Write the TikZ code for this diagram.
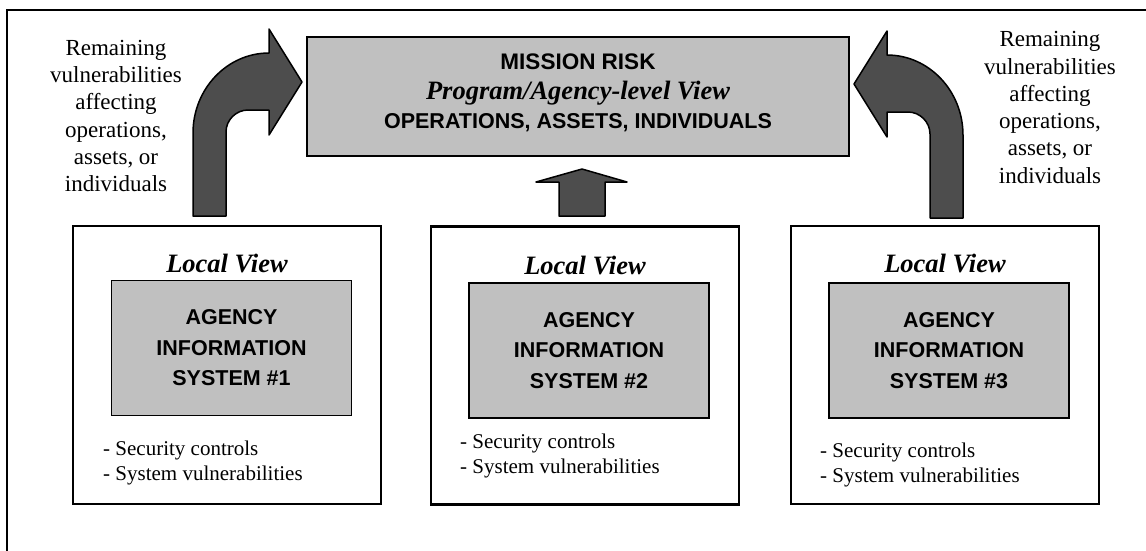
\documentclass[tikz,border=0pt]{standalone}
\usepackage{fontspec}
\setmainfont{Liberation Serif}
\setsansfont{Liberation Sans}
\usepackage{xcolor}
\usepackage{tikz}
\usetikzlibrary{positioning, calc}

\definecolor{boxgray}{HTML}{C0C0C0}
\definecolor{arrowgray}{HTML}{4D4D4D}

\begin{document}
\begin{tikzpicture}[
  x=1pt, y=-1pt,
  riskbox/.style={draw, line width=2.3pt, fill=boxgray, minimum width=542pt, minimum height=119pt, align=center, inner sep=0pt,
    text depth=10pt, font=\sffamily\bfseries\fontsize{21.5}{29.4}\selectfont},
  panel/.style={draw, line width=2.7pt, fill=white, minimum width=308pt, minimum height=278pt, inner sep=0pt},
  sysbox/.style={draw, line width=1.7pt, fill=boxgray, minimum width=240pt, minimum height=135pt, align=center, inner sep=0pt,
    font=\sffamily\bfseries\fontsize{21.5}{30.5}\selectfont},
  viewtitle/.style={inner sep=0pt, font=\bfseries\itshape\fontsize{26.5}{30}\selectfont},
  notes/.style={inner sep=0pt, anchor=west, align=left, font=\fontsize{21}{25}\selectfont},
  sidetext/.style={inner sep=0pt, align=center, font=\fontsize{23}{27.3}\selectfont},
  blockarrow/.style={draw, line width=1.5pt, fill=arrowgray, line join=round}
]
\useasboundingbox (0,0) rectangle (1146,550);

% frame
\draw[line width=2.5pt] (7,560) -- (7,10) -- (1160,10);

\node[riskbox] (mission) at (578,96.5) {%
{\fontsize{22.5}{29.4}\selectfont MISSION RISK}\\
{\rmfamily\bfseries\itshape\fontsize{26.5}{29.4}\selectfont Program/Agency-level View}\\
OPERATIONS, ASSETS, INDIVIDUALS};

\node[sidetext] (leftnote) at (116,116) {Remaining\\vulnerabilities\\affecting\\operations,\\assets, or\\individuals};
\node[sidetext] (rightnote) at (1050,107.5) {Remaining\\vulnerabilities\\affecting\\operations,\\assets, or\\individuals};

% local views
\node[panel] (sys1) at (227,365) {};
\node[panel] (sys2) at (585,365.5) {};
\node[panel] (sys3) at (945,365) {};

\node[viewtitle] (title1) at (227,263) {Local View};
\node[viewtitle] (title2) at (585,265) {Local View};
\node[viewtitle] (title3) at (945,263) {Local View};

\node[sysbox] (info1) at (231.5,348) {AGENCY\\INFORMATION\\SYSTEM \#1};
\node[sysbox] (info2) at (589,350.5) {AGENCY\\INFORMATION\\SYSTEM \#2};
\node[sysbox] (info3) at (949,350.5) {AGENCY\\INFORMATION\\SYSTEM \#3};

\node[notes] (notes1) at (103,462.5) {- Security controls\\- System vulnerabilities};
\node[notes] (notes2) at (460,455.5) {- Security controls\\- System vulnerabilities};
\node[notes] (notes3) at (820,464.5) {- Security controls\\- System vulnerabilities};

% block arrows into mission risk
\draw[blockarrow] (193,216) -- (193,133) .. controls (193,89) and (227,53) .. (269,53)
  -- (269,29) -- (302,82) -- (269,135) -- (269,110) -- (248,110)
  .. controls (236,110) and (226,120) .. (226,132) -- (226,216) -- cycle;
\begin{scope}[xshift=1156pt, xscale=-1, yshift=-2pt]
\draw[blockarrow] (193,216) -- (193,133) .. controls (193,89) and (227,53) .. (269,53)
  -- (269,29) -- (302,82) -- (269,135) -- (269,110) -- (248,110)
  .. controls (236,110) and (226,120) .. (226,132) -- (226,216) -- cycle;
\end{scope}
\draw[blockarrow] (559,216) -- (559,182) -- (536,182) -- (582,169) -- (627,182) -- (605,182) -- (605,216) -- cycle;
\end{tikzpicture}
\end{document}
